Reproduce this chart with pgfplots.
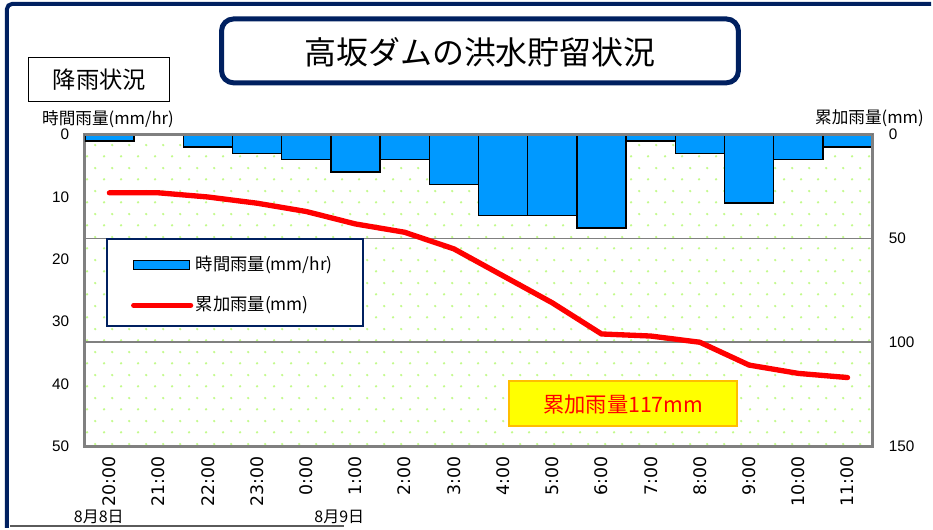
\documentclass[border=0pt]{standalone}
\usepackage{fontspec}
\usepackage{pgfplots}
\pgfplotsset{compat=1.18}
\usetikzlibrary{patterns.meta}
\setmainfont{Liberation Sans}
\newfontfamily\jp{Noto Sans CJK JP}
\newfontfamily\dv{DejaVu Sans}
\definecolor{navy}{RGB}{0,32,96}
\definecolor{barblue}{RGB}{0,153,255}
\definecolor{framegray}{RGB}{128,128,128}
\definecolor{dotgreen}{RGB}{195,250,140}
\definecolor{boxyellow}{RGB}{255,255,0}
\definecolor{boxorange}{RGB}{255,190,0}
\pgfplotsset{/pgf/number format/assume math mode=true}
\pgfdeclarepattern{
  name=stagdots,
  type=uncolored,
  bottom left={\pgfpoint{0pt}{0pt}},
  top right={\pgfpoint{12.5pt}{17.5pt}},
  tile size={\pgfpoint{12.5pt}{17.5pt}},
  code={
    \pgfpathcircle{\pgfpoint{3.125pt}{4.375pt}}{1pt}
    \pgfpathcircle{\pgfpoint{9.375pt}{13.125pt}}{1pt}
    \pgfusepath{fill}
  }
}
\begin{document}
\begin{tikzpicture}
\begin{scope}[x=0.75pt,y=0.75pt]
\useasboundingbox (0,0) rectangle (933,529);
\end{scope}
\begin{axis}[
  at={(85*0.75pt,82*0.75pt)}, anchor=south west,
  scale only axis, width=591.75pt, height=234pt,
  xmin=-0.5, xmax=15.5, ymin=0, ymax=50, y dir=reverse,
  axis line style={framegray, line width=2.2pt},
  axis background/.style={pattern=stagdots, pattern color=dotgreen},
  ytick={0,10,20,30,40,50},
  ytick style={draw=none},
  yticklabel style={font=\fontsize{11.5}{12}\selectfont, xshift=-4pt},
  xtick={0,...,15},
  xticklabels={{20:00},{21:00},{22:00},{23:00},{0:00},{1:00},{2:00},{3:00},{4:00},{5:00},{6:00},{7:00},{8:00},{9:00},{10:00},{11:00}},
  x tick label style={rotate=90, anchor=east, font=\dv\fontsize{13}{14}\selectfont},
  xtick style={draw=none},
  minor xtick={-0.5,0.5,...,15.5},
  minor x tick style={framegray, line width=1pt},
  minor tick length=4.5pt,
  tick align=outside,
  xtick pos=bottom, ytick pos=left,
]
\addplot[ybar, bar width=1, fill=barblue, draw=black, line width=1.1pt]
  coordinates {(0,1)(1,0)(2,2)(3,3)(4,4)(5,6)(6,4)(7,8)(8,13)(9,13)(10,15)(11,1)(12,3)(13,11)(14,4)(15,2)};
\end{axis}
\begin{axis}[
  at={(85*0.75pt,82*0.75pt)}, anchor=south west,
  scale only axis, width=591.75pt, height=234pt,
  xmin=-0.5, xmax=15.5, ymin=0, ymax=150, y dir=reverse,
  axis y line*=right, axis x line=none,
  axis line style={framegray, line width=2.2pt},
  ytick={0,50,100,150},
  ytick style={draw=none},
  ymajorgrids, grid style={framegray, line width=1.4pt},
  yticklabel style={font=\fontsize{11.5}{12}\selectfont, xshift=9pt},
]
\addplot[red, line width=4pt, line join=round, line cap=round]
  coordinates {(0,28)(1,28)(2,30)(3,33)(4,37)(5,43)(6,47)(7,55)(8,68)(9,81)(10,96)(11,97)(12,100)(13,111)(14,115)(15,117)};
\end{axis}
\begin{scope}[x=0.75pt,y=0.75pt]
% outer frame
\draw[navy, line width=3pt] (7,0) -- (7,520) arc[start angle=180,end angle=90,radius=5] -- (933,525);
% title
\draw[navy, line width=3.75pt, rounded corners=9pt, fill=white] (222,510) rectangle (740,446);
\node[font=\jp\fontsize{24}{27}\selectfont] at (481,477) {高坂ダムの洪水貯留状況};
% 降雨状況 box
\draw[black, line width=0.75pt, fill=white] (29,471) rectangle (170,427);
\node[font=\jp\fontsize{17.5}{20}\selectfont] at (99.5,449) {降雨状況};
% axis titles
\node[anchor=west, font=\jp\fontsize{12.5}{14}\selectfont, inner sep=0pt] at (42,410) {時間雨量(mm/hr)};
\node[anchor=east, font=\jp\fontsize{12.5}{14}\selectfont, inner sep=0pt] at (926,410) {累加雨量(mm)};
% legend
\draw[navy, line width=1.5pt, fill=white] (107,289) rectangle (364,202);
\draw[black, line width=1.1pt, fill=barblue] (134,268) rectangle (190,259);
\node[anchor=west, font=\jp\fontsize{13}{15}\selectfont, inner sep=0pt] at (196,264) {時間雨量(mm/hr)};
\draw[red, line width=4pt, line cap=round] (134,223) -- (191,223);
\node[anchor=west, font=\jp\fontsize{13}{15}\selectfont, inner sep=0pt] at (196,223) {累加雨量(mm)};
% total box
\draw[boxorange, line width=1.5pt, fill=boxyellow] (510,147) rectangle (739,102);
\node[red, font=\jp\fontsize{16}{18}\selectfont] at (624.5,124) {累加雨量117mm};
% dates
\node[font=\jp\fontsize{12}{14}\selectfont, inner sep=0pt] at (99,11) {8月8日};
\node[font=\jp\fontsize{12}{14}\selectfont, inner sep=0pt] at (340,11) {8月9日};
\draw[framegray!70!black, line width=1.2pt] (10,2) -- (345,2);
\end{scope}
\end{tikzpicture}
\end{document}
